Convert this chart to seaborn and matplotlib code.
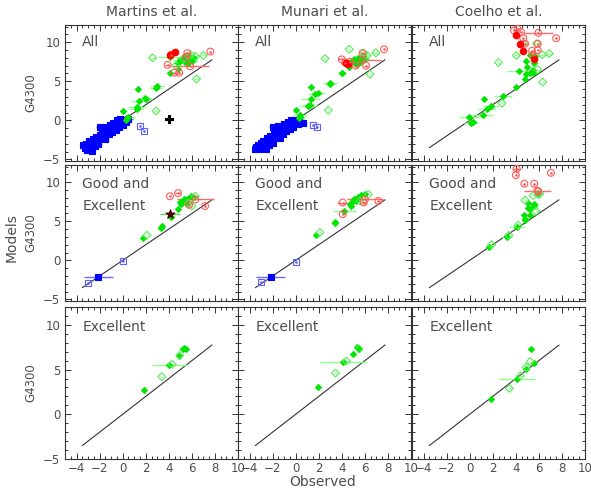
import numpy as np
import pandas as pd
import matplotlib
matplotlib.use("Agg")
import matplotlib.pyplot as plt
from matplotlib.ticker import MultipleLocator
import seaborn as sns

sns.set_theme(style="ticks")
plt.rcParams['font.family'] = ['DejaVu Sans']

# ---------------- data ----------------
COLUMNS = ["Martins et al.", "Munari et al.", "Coelho et al."]
ROW_LABELS = ["All", "Good and\nExcellent", "Excellent"]
X_TICKS = [-4, -2, 0, 2, 4, 6, 8, 10]
Y_TICKS = [-5, 0, 5, 10]
ONE_TO_ONE = [-3.5, 7.75]

# each entry: (observed, model, observed error)
MAR_ALL_BF = [(-3.4, -3.2, 0.3), (-3.3, -3.5, 0.3), (-3.2, -3.0, 0.3), (-3.1, -3.8, 0.3), (-3.0, -3.4, 0.3),
              (-2.9, -2.7, 0.3), (-2.8, -3.1, 0.3), (-2.7, -3.9, 0.3), (-2.6, -2.4, 0.3), (-2.5, -2.9, 0.3),
              (-2.4, -3.3, 0.3), (-2.3, -2.1, 0.3), (-2.2, -2.6, 0.3), (-2.1, -3.0, 0.3), (-2.0, -1.9, 0.3),
              (-1.9, -2.3, 0.3), (-1.8, -1.2, 0.3), (-1.7, -2.0, 0.3), (-1.6, -1.6, 0.3), (-1.5, -2.4, 0.3),
              (-1.4, -1.0, 0.3), (-1.3, -1.4, 0.3), (-1.2, -1.8, 0.3), (-1.1, -0.6, 0.3), (-1.0, -1.1, 0.3),
              (-0.9, -1.5, 0.3), (-0.8, -0.3, 0.3), (-0.7, -0.8, 0.3), (-0.6, -1.2, 0.3), (-0.5, 0.1, 0.3),
              (-0.4, -0.5, 0.3), (-0.3, -0.9, 0.3), (-0.2, 0.2, 0.3), (-0.1, -0.3, 0.3), (0.0, -0.6, 0.3),
              (0.1, 0.1, 0.3), (0.3, -0.2, 0.4), (0.5, 0.2, 0.4), (-2.0, -0.9, 0.3), (-1.6, -0.8, 0.3)]
MAR_ALL_BO = [(1.5, -0.7, 0.1), (1.85, -1.4, 0.1)]
MAR_ALL_K = [(4.0, 0.2, 0.3)]
MAR_ALL_GF = [(1.3, 4.0, 0.3), (3.0, 4.4, 0.6), (2.9, 4.2, 0.5), (1.4, 2.5, 0.7), (1.9, 2.9, 0.6),
              (2.0, 2.7, 0.5), (1.25, 1.65, 0.8), (1.2, 1.4, 0.6), (0.05, 1.2, 0.3), (0.5, 0.45, 0.6),
              (0.4, 0.25, 0.6), (0.3, 0.1, 0.5), (4.8, 6.6, 0.3), (4.1, 6.0, 0.3), (4.8, 7.3, 0.4),
              (5.2, 8.0, 0.5), (5.5, 7.8, 0.6), (5.8, 8.1, 0.4), (6.0, 7.6, 0.5), (5.4, 7.5, 0.3),
              (5.7, 7.3, 0.4), (5.0, 7.7, 0.6), (6.2, 8.0, 0.3), (5.6, 8.3, 0.5), (4.1, 8.1, 1.0)]
MAR_ALL_GO = [(2.9, 1.2, 0.2), (6.4, 5.3, 0.2), (2.6, 8.0, 0.2), (7.0, 8.3, 0.2), (5.9, 8.4, 0.3),
              (6.3, 8.2, 0.2), (5.3, 7.9, 0.2), (4.6, 7.0, 0.2)]
MAR_ALL_RF = [(4.5, 8.7, 0.2), (4.1, 8.3, 0.2)]
MAR_ALL_RO = [(7.6, 8.8, 0.1), (5.6, 8.6, 0.3), (3.9, 7.1, 0.2), (4.5, 6.1, 0.2), (4.9, 6.1, 0.2),
              (5.85, 6.9, 1.6), (5.5, 8.1, 0.3), (4.2, 8.4, 0.3)]

MAR_GE_BF = [(-2.1, -2.1, 1.25)]
MAR_GE_BO = [(-3.0, -2.85, 0.1), (0.0, -0.1, 0.1)]
MAR_GE_K = [(4.1, 5.95, 0.9)]
MAR_GE_GF = [(1.75, 2.8, 0.2), (3.3, 4.2, 0.3), (3.4, 4.4, 0.3), (4.2, 5.6, 0.3), (4.8, 6.6, 0.2),
             (5.0, 7.5, 0.4), (5.3, 7.9, 0.3), (5.6, 7.8, 0.4), (5.9, 8.2, 0.3), (6.1, 8.1, 0.3),
             (5.5, 7.4, 0.3), (5.1, 7.2, 0.3)]
MAR_GE_GO = [(2.1, 3.2, 0.1), (6.0, 6.95, 0.1), (6.3, 8.2, 0.2), (5.7, 7.3, 0.1)]
MAR_GE_RO = [(4.1, 8.2, 0.1), (4.8, 8.6, 0.3), (5.75, 7.1, 0.1), (7.15, 6.95, 0.1), (6.3, 7.8, 1.6)]

MAR_EX_GF = [(1.85, 2.7, 0.1), (4.05, 5.55, 1.5), (4.9, 6.5, 0.1), (5.2, 7.25, 0.2), (5.3, 7.45, 0.4),
             (5.45, 7.3, 0.2)]
MAR_EX_GO = [(3.4, 4.2, 0.1), (4.3, 5.6, 0.1), (4.95, 6.6, 0.1)]

MUN_ALL_BF = [(-3.4, -3.4, 0.3), (-3.3, -3.1, 0.3), (-3.2, -3.7, 0.3), (-3.0, -2.9, 0.3), (-2.9, -3.3, 0.3),
              (-2.8, -2.6, 0.3), (-2.7, -3.0, 0.3), (-2.6, -3.7, 0.3), (-2.5, -2.3, 0.3), (-2.4, -2.8, 0.3),
              (-2.3, -3.2, 0.3), (-2.2, -2.0, 0.3), (-2.1, -2.5, 0.3), (-2.0, -2.9, 0.3), (-1.9, -1.8, 0.3),
              (-1.8, -2.2, 0.3), (-1.7, -1.1, 0.3), (-1.6, -1.9, 0.3), (-1.5, -1.5, 0.3), (-1.4, -2.2, 0.3),
              (-1.3, -0.9, 0.3), (-1.2, -1.3, 0.3), (-1.1, -1.7, 0.3), (-1.0, -0.5, 0.3), (-0.9, -1.0, 0.3),
              (-0.8, -1.4, 0.3), (-0.7, -0.2, 0.3), (-0.6, -0.7, 0.3), (-0.5, -1.1, 0.3), (-0.4, 0.0, 0.3),
              (-0.3, -0.4, 0.3), (-0.2, -0.8, 0.3), (-0.1, 0.1, 0.3), (0.0, -0.2, 0.3), (0.2, -0.5, 0.3),
              (0.3, 0.0, 0.4), (0.6, -0.3, 0.4), (-2.0, -0.8, 0.3), (-1.5, -0.7, 0.3), (-3.5, -3.7, 0.3)]
MUN_ALL_BO = [(1.5, -0.55, 0.1), (1.85, -0.9, 0.1)]
MUN_ALL_GF = [(1.33, 4.3, 0.3), (3.0, 4.8, 0.6), (3.0, 4.6, 0.5), (1.9, 3.5, 0.6), (1.7, 3.35, 0.6),
              (1.3, 2.67, 0.8), (1.25, 2.0, 0.6), (1.1, 1.8, 0.7), (0.05, 1.3, 0.3), (0.4, 0.65, 0.6),
              (0.35, 0.45, 0.5), (0.3, 0.3, 0.5), (4.0, 6.0, 0.4), (4.05, 6.1, 0.3), (4.6, 6.85, 0.3),
              (4.8, 7.5, 0.4), (5.1, 7.8, 0.5), (5.4, 8.0, 0.4), (5.6, 7.6, 0.3), (5.8, 8.2, 0.5),
              (6.0, 7.9, 0.4), (5.2, 7.2, 0.3), (5.5, 7.4, 0.4)]
MUN_ALL_GO = [(2.83, 1.3, 0.1), (2.55, 7.9, 0.2), (4.65, 9.1, 0.1), (6.45, 5.9, 0.1), (6.95, 8.65, 0.3),
              (5.9, 8.6, 0.2), (6.2, 8.3, 0.2)]
MUN_ALL_RF = [(4.57, 7.16, 0.2), (4.4, 7.3, 0.2)]
MUN_ALL_RO = [(7.66, 9.1, 0.1), (4.0, 7.8, 0.3), (5.8, 8.6, 0.2), (4.7, 7.5, 0.3), (5.2, 7.0, 0.2),
              (6.1, 7.0, 0.2), (5.8, 7.7, 1.6), (4.3, 7.4, 0.4)]

MUN_GE_BF = [(-2.15, -2.1, 1.25)]
MUN_GE_BO = [(-3.0, -2.8, 0.1), (0.0, -0.2, 0.1)]
MUN_GE_GF = [(1.77, 3.2, 0.1), (3.4, 4.76, 0.3), (3.45, 4.9, 0.2), (4.2, 6.3, 1.0), (4.7, 7.2, 0.3),
             (4.9, 7.5, 0.3), (5.1, 7.9, 0.4), (5.4, 8.1, 0.3), (5.7, 8.3, 0.3), (6.0, 8.5, 0.2),
             (5.2, 7.6, 0.3), (4.8, 7.0, 0.2)]
MUN_GE_GO = [(2.1, 3.57, 0.1), (6.3, 8.44, 0.1), (5.6, 7.6, 0.1)]
MUN_GE_RO = [(4.08, 5.9, 0.1), (4.08, 7.4, 0.5), (5.9, 7.4, 0.2), (7.17, 7.6, 0.1), (6.0, 7.8, 1.55)]

MUN_EX_GF = [(1.9, 3.1, 0.1), (4.1, 5.85, 2.0), (5.0, 6.7, 0.1), (5.3, 7.5, 0.2), (5.45, 7.25, 0.1)]
MUN_EX_GO = [(3.45, 4.6, 0.1), (4.4, 5.95, 0.1), (5.5, 7.3, 0.1)]

CO_ALL_GF = [(-0.03, 0.44, 0.9), (0.26, -0.2, 0.5), (0.12, -0.33, 0.6), (1.24, 2.67, 0.2), (1.5, 1.4, 0.8),
             (1.13, 0.66, 0.9), (1.85, 1.8, 0.7), (2.9, 3.1, 0.8), (4.05, 4.3, 0.3), (4.77, 5.24, 0.3),
             (4.9, 5.9, 0.3), (5.2, 6.1, 0.3), (5.47, 6.4, 0.3), (4.3, 6.35, 1.1), (5.0, 6.77, 0.3),
             (5.6, 7.3, 0.3), (4.9, 7.6, 0.3), (5.23, 8.35, 0.3), (5.7, 8.2, 0.3), (5.5, 6.0, 0.3)]
CO_ALL_GO = [(2.5, 7.4, 0.1), (4.05, 8.3, 0.2), (2.8, 2.2, 0.1), (6.33, 4.9, 0.1), (5.9, 6.5, 0.1),
             (6.3, 8.4, 0.2), (6.9, 8.55, 0.3), (4.65, 9.8, 0.2), (5.8, 9.8, 0.3)]
CO_ALL_RF = [(4.0, 10.9, 0.1), (4.37, 9.8, 0.2), (4.65, 8.9, 0.1), (5.6, 7.9, 0.1)]
CO_ALL_RO = [(3.85, 11.5, 0.1), (4.15, 11.7, 0.2), (4.45, 11.3, 0.1), (5.95, 11.2, 1.3), (7.5, 10.5, 0.1),
             (4.65, 10.5, 0.1), (4.8, 9.8, 0.3), (5.9, 9.8, 0.1), (5.4, 8.9, 0.2), (5.9, 9.0, 0.1),
             (5.5, 8.3, 0.1)]

CO_GE_GF = [(5.85, 8.5, 0.4), (5.1, 7.4, 0.2), (5.6, 7.2, 0.4), (5.6, 6.9, 0.3), (5.1, 6.7, 0.3),
            (5.2, 6.55, 0.2), (4.74, 5.8, 0.2), (5.2, 5.85, 0.2), (4.8, 5.1, 0.2), (4.8, 5.3, 0.2),
            (4.13, 4.3, 0.7), (3.24, 3.0, 0.4), (1.7, 1.7, 0.2)]
CO_GE_GO = [(5.5, 8.3, 0.1), (6.0, 8.4, 0.1), (6.1, 8.6, 0.1), (4.8, 7.7, 0.1), (5.75, 6.3, 0.1),
            (4.2, 4.5, 0.1), (3.4, 3.2, 0.1), (1.9, 2.0, 0.1)]
CO_GE_RO = [(4.08, 11.7, 0.4), (4.0, 10.9, 0.1), (7.05, 11.2, 0.1), (4.74, 9.8, 0.1), (5.6, 9.8, 0.1),
            (5.87, 8.9, 1.2), (5.95, 8.8, 0.1)]

CO_EX_GF = [(1.88, 1.7, 0.1), (4.1, 4.0, 1.55), (4.9, 5.05, 0.1), (5.3, 7.3, 0.3), (5.6, 5.7, 0.1)]
CO_EX_GO = [(3.45, 2.9, 0.1), (4.4, 4.3, 0.1), (4.9, 5.25, 0.1), (5.25, 5.9, 0.1)]

PANELS = {
    (0, 0): dict(bf=MAR_ALL_BF, bo=MAR_ALL_BO, gf=MAR_ALL_GF, go=MAR_ALL_GO, rf=MAR_ALL_RF, ro=MAR_ALL_RO, k=MAR_ALL_K),
    (1, 0): dict(bf=MAR_GE_BF, bo=MAR_GE_BO, gf=MAR_GE_GF, go=MAR_GE_GO, ro=MAR_GE_RO, kr=MAR_GE_K),
    (2, 0): dict(gf=MAR_EX_GF, go=MAR_EX_GO),
    (0, 1): dict(bf=MUN_ALL_BF, bo=MUN_ALL_BO, gf=MUN_ALL_GF, go=MUN_ALL_GO, rf=MUN_ALL_RF, ro=MUN_ALL_RO),
    (1, 1): dict(bf=MUN_GE_BF, bo=MUN_GE_BO, gf=MUN_GE_GF, go=MUN_GE_GO, ro=MUN_GE_RO),
    (2, 1): dict(gf=MUN_EX_GF, go=MUN_EX_GO),
    (0, 2): dict(gf=CO_ALL_GF, go=CO_ALL_GO, rf=CO_ALL_RF, ro=CO_ALL_RO),
    (1, 2): dict(gf=CO_GE_GF, go=CO_GE_GO, ro=CO_GE_RO),
    (2, 2): dict(gf=CO_EX_GF, go=CO_EX_GO),
}

# ---------------- style ----------------
STYLES = {
    # marker, colour, size, filled, errorbar colour, centre dot
    "bf": ("s", "#0000ff", 20, True, "#6b6bff", False),
    "bo": ("s", "#6060ff", 20, False, "#8080ff", True),
    "gf": ("D", "#00e600", 9, True, "#8cff8c", False),
    "go": ("D", "#55ee55", 16, False, "#8cff8c", False),
    "rf": ("o", "#ff0000", 22, True, "#ff6060", False),
    "ro": ("o", "#ff5a5a", 24, False, "#ff6a6a", True),
    "k": ("P", "#000000", 36, True, "#000000", False),
    "kr": ("*", "#4a0000", 45, True, "#66cc66", False),
}
ORDER = ["bf", "bo", "gf", "go", "ro", "rf", "k", "kr"]
TXT = "#4d4d4d"

fig = plt.figure(figsize=(5.91, 4.92), dpi=100)
W, H = 591.0, 492.0
col_left = [65, 238, 412]
col_w = 173
rows_px = [(25, 161), (165, 301), (307, 459)]
ylims = [(-5.2, 12.2), (-5.2, 12.2), (-5.0, 12.0)]


def draw_group(ax, pts, key):
    marker, color, s, filled, ecol, dot = STYLES[key]
    df = pd.DataFrame(pts, columns=["obs", "mod", "err"])
    ax.errorbar(df["obs"], df["mod"], xerr=df["err"], fmt="none", ecolor=ecol,
                elinewidth=1.0, capsize=0, zorder=2)
    sns.scatterplot(data=df, x="obs", y="mod", ax=ax, marker=marker, s=s, color=color,
                    edgecolor=color, linewidth=0.8, zorder=3, legend=False)
    if not filled:
        ax.collections[-1].set_facecolor("none")
    if dot:
        sns.scatterplot(data=df, x="obs", y="mod", ax=ax, marker="o", s=2, color=color,
                        edgecolor=color, linewidth=0.3, zorder=4, legend=False)


for (r, c), groups in PANELS.items():
    top, bot = rows_px[r]
    ax = fig.add_axes([col_left[c] / W, 1 - bot / H, col_w / W, (bot - top) / H])
    ax.plot(ONE_TO_ONE, ONE_TO_ONE, color="#333333", lw=0.8, zorder=1)
    for key in ORDER:
        if key in groups:
            draw_group(ax, groups[key], key)
    ax.set_xlim(-5, 10)
    ax.set_ylim(*ylims[r])
    ax.set_xticks(X_TICKS)
    ax.set_yticks(Y_TICKS)
    ax.xaxis.set_minor_locator(MultipleLocator(0.5))
    ax.yaxis.set_minor_locator(MultipleLocator(1))
    ax.tick_params(which="both", direction="in", top=True, right=True, colors="#333333",
                   labelcolor=TXT, labelsize=8.5, width=0.7)
    ax.tick_params(which="major", length=4)
    ax.tick_params(which="minor", length=2)
    ax.tick_params(axis="x", pad=2.5)
    ax.set_xlabel("")
    ax.set_ylabel("")
    if r != 2:
        ax.set_xticklabels([])
    if c != 0:
        ax.set_yticklabels([])
    for sp in ax.spines.values():
        sp.set_color("#333333")
        sp.set_linewidth(0.8)
    ax.text(0.1, 0.93 if r == 0 else 0.915, ROW_LABELS[r], transform=ax.transAxes,
            ha="left", va="top", fontsize=10, color=TXT, linespacing=1.75)
    if r == 0:
        fig.text((col_left[c] + col_w / 2) / W, 1 - 12 / H, COLUMNS[c], ha="center",
                 va="center", fontsize=10, color=TXT)
    if c == 0:
        fig.text(31 / W, 1 - (top + bot) / 2 / H, "G4300", rotation=90, ha="center",
                 va="center", fontsize=8.5, color=TXT)

fig.text(12 / W, 1 - 238 / H, "Models", rotation=90, ha="center", va="center",
         fontsize=10, color=TXT)
fig.text(323 / W, 1 - 482 / H, "Observed", ha="center", va="center", fontsize=10, color=TXT)

fig.savefig("out.png", dpi=100)
